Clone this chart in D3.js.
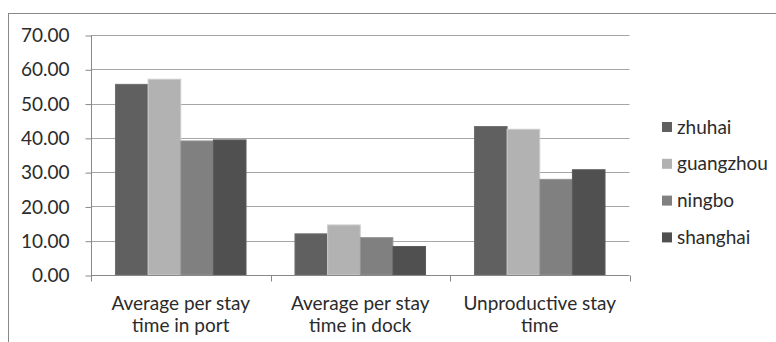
<!DOCTYPE html>
<html>
<head>
<meta charset="utf-8">
<script src="https://cdn.jsdelivr.net/npm/d3@7"></script>
<style>
  html, body { margin: 0; padding: 0; background: #fff; }
  svg { display: block; font-family: Lato, "Open Sans", sans-serif; }
</style>
</head>
<body>
<svg id="chart" width="776" height="342"></svg>
<script>
// Categories (two-line labels) and port series
const categories = [
  ["Average per stay", "time in port"],
  ["Average per stay", "time in dock"],
  ["Unproductive stay", "time"]
];
const seriesNames = ["zhuhai", "guangzhou", "ningbo", "shanghai"];
const seriesColors = ["#606060", "#b2b2b2", "#808080", "#505050"];
const zhuhai    = [55.6, 12.0, 43.3];
const guangzhou = [57.1, 14.6, 42.5];
const ningbo    = [39.1, 10.9, 27.9];
const shanghai  = [39.4, 8.3, 30.7];
const yTicks = [0, 10, 20, 30, 40, 50, 60, 70];

const values = [zhuhai, guangzhou, ningbo, shanghai];
const fontSize = "19px";

const svg = d3.select("#chart");
const plot = { left: 91, right: 629.5, top: 35, bottom: 275 };

// outer chart frame
svg.append("rect")
  .attr("x", 8.5).attr("y", 13.5)
  .attr("width", 800).attr("height", 400)
  .attr("fill", "none").attr("stroke", "#888").attr("stroke-width", 1);

const x0 = d3.scaleBand()
  .domain(d3.range(categories.length))
  .range([plot.left, plot.right])
  .paddingInner(0).paddingOuter(0);

// 150% gap between groups: 4 bars + 1.5 bar widths per category
const x1 = d3.scaleBand()
  .domain(seriesNames)
  .range([0, x0.bandwidth()])
  .paddingInner(0)
  .paddingOuter(0.75);

const y = d3.scaleLinear().domain([0, 70]).range([plot.bottom, plot.top]);

// gridlines
svg.append("g").selectAll("line")
  .data(yTicks.filter(d => d > 0))
  .join("line")
  .attr("x1", plot.left).attr("x2", plot.right)
  .attr("y1", d => Math.round(y(d)) + 0.5).attr("y2", d => Math.round(y(d)) + 0.5)
  .attr("stroke", "#a6a6a6").attr("stroke-width", 1);

// y axis
const yAxis = svg.append("g")
  .attr("transform", `translate(${plot.left + 0.5},0.5)`)
  .call(d3.axisLeft(y).tickValues(yTicks).tickFormat(d3.format(".2f")).tickSize(6).tickPadding(16));
yAxis.select(".domain").attr("stroke", "#888").attr("d", `M0,${plot.top}V${plot.bottom}`);
yAxis.selectAll(".tick line").attr("stroke", "#888");
yAxis.selectAll(".tick text")
  .attr("fill", "#2b2b2b").style("font-size", fontSize).style("font-family", "Lato, 'Open Sans', sans-serif");

// bars
const groups = svg.append("g").selectAll("g")
  .data(categories.map((c, i) => i))
  .join("g")
  .attr("transform", i => `translate(${x0(i)},0)`);

groups.selectAll("rect")
  .data(i => seriesNames.map((s, k) => ({ s, k, v: values[k][i] })))
  .join("rect")
  .attr("x", d => x1(d.s))
  .attr("y", d => y(d.v))
  .attr("width", x1.bandwidth())
  .attr("height", d => y(0) - y(d.v))
  .attr("fill", d => seriesColors[d.k])
  .attr("stroke", d => d3.color(seriesColors[d.k]).brighter(0.4))
  .attr("stroke-width", 1);

// x axis
const xAxis = svg.append("g").attr("transform", `translate(0,${plot.bottom + 0.5})`);
xAxis.append("line")
  .attr("x1", plot.left).attr("x2", plot.right)
  .attr("stroke", "#888");
xAxis.selectAll("line.tk")
  .data(d3.range(categories.length + 1))
  .join("line").attr("class", "tk")
  .attr("x1", i => Math.round(plot.left + i * x0.bandwidth()) + 0.5)
  .attr("x2", i => Math.round(plot.left + i * x0.bandwidth()) + 0.5)
  .attr("y1", 0).attr("y2", 6)
  .attr("stroke", "#888");

const labels = xAxis.selectAll("text")
  .data(categories)
  .join("text")
  .attr("text-anchor", "middle")
  .attr("fill", "#2b2b2b")
  .style("font-size", fontSize);
labels.each(function (lines, i) {
  const t = d3.select(this);
  lines.forEach((ln, j) => {
    t.append("tspan")
      .attr("x", x0(i) + x0.bandwidth() / 2)
      .attr("y", 34 + j * 22)
      .text(ln);
  });
});

// legend
const legend = svg.append("g").attr("transform", "translate(662,0)");
const items = legend.selectAll("g")
  .data(seriesNames)
  .join("g")
  .attr("transform", (d, i) => `translate(0,${127 + i * 36.8})`);
items.append("rect")
  .attr("x", 0).attr("y", -5).attr("width", 10).attr("height", 10)
  .attr("fill", (d, i) => seriesColors[i]);
items.append("text")
  .attr("x", 15).attr("y", 0).attr("dy", "0.35em")
  .attr("fill", "#2b2b2b").style("font-size", fontSize)
  .text(d => d);
</script>
</body>
</html>
